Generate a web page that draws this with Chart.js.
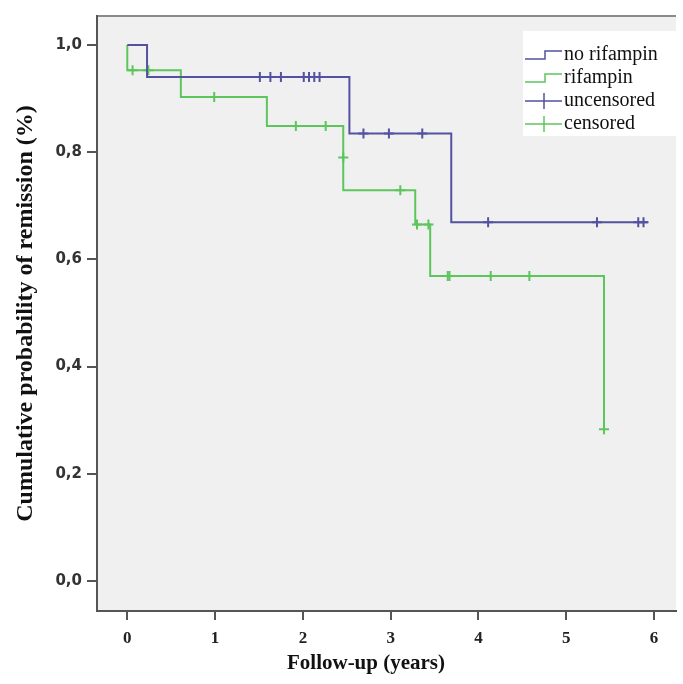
<!DOCTYPE html>
<html>
<head>
<meta charset="utf-8">
<script src="https://cdn.jsdelivr.net/npm/chart.js@4"></script>
<style>
html,body{margin:0;padding:0;background:#fff;}
#wrap{width:683px;height:684px;}
</style>
</head>
<body>
<div id="wrap"><canvas id="c" width="683" height="684"></canvas></div>
<script>
// ---- data ----
const xTickValues = [0, 1, 2, 3, 4, 5, 6];
const yTickValues = [0, 0.2, 0.4, 0.6, 0.8, 1.0];

// Kaplan-Meier steps: "no rifampin"
const noRifTimes = [0, 0.225, 2.53, 3.69, 5.93];
const noRifSurv  = [1.0, 0.940, 0.835, 0.669, 0.669];
// censor marks "no rifampin"
const noRifCensT = [1.51, 1.63, 1.75, 2.01, 2.07, 2.13, 2.19, 2.69, 2.98, 3.36, 4.11, 5.35, 5.82, 5.88];
const noRifCensS = [0.940, 0.940, 0.940, 0.940, 0.940, 0.940, 0.940, 0.835, 0.835, 0.835, 0.669, 0.669, 0.669, 0.669];

// Kaplan-Meier steps: "rifampin"
const rifTimes = [0, 0, 0.61, 1.59, 2.46, 3.28, 3.45, 5.43];
const rifSurv  = [1.0, 0.953, 0.903, 0.849, 0.729, 0.665, 0.569, 0.283];
// censor marks "rifampin"
const rifCensT = [0.06, 0.24, 0.99, 1.92, 2.26, 2.46, 3.11, 3.30, 3.43, 3.65, 3.67, 4.14, 4.58, 5.43];
const rifCensS = [0.953, 0.953, 0.903, 0.849, 0.849, 0.79, 0.729, 0.665, 0.665, 0.569, 0.569, 0.569, 0.569, 0.283];

const legendLabels = ['no rifampin', 'rifampin', 'uncensored', 'censored'];
const xTitle = 'Follow-up (years)';
const yTitle = 'Cumulative probability of remission (%)';

// ---- styling ----
const BLUE = '#5252a0';
const GREEN = '#5cc65c';
const AXIS = '#555555';

const pts = (xs, ys) => xs.map((x, i) => ({x: x, y: ys[i]}));

const bgPlugin = {
  id: 'bg',
  beforeDraw(chart) {
    const {ctx, chartArea: a} = chart;
    ctx.save();
    ctx.fillStyle = '#f0f0f0';
    ctx.fillRect(a.left, a.top, a.right - a.left, a.bottom - a.top);
    ctx.strokeStyle = '#8a8a8a';
    ctx.lineWidth = 2;
    ctx.beginPath();
    ctx.moveTo(a.left, a.top);
    ctx.lineTo(a.right, a.top);
    ctx.stroke();
    ctx.restore();
  }
};

const legendPlugin = {
  id: 'kmLegend',
  afterDraw(chart) {
    const {ctx} = chart;
    const x0 = 523, y0 = 31, w = 170, h = 105;
    ctx.save();
    ctx.fillStyle = '#ffffff';
    ctx.fillRect(x0, y0, w, h);
    const rows = [55, 78, 101, 124];
    const colors = [BLUE, GREEN, BLUE, GREEN];
    ctx.lineWidth = 1.5;
    rows.forEach((cy, i) => {
      ctx.strokeStyle = colors[i];
      ctx.beginPath();
      if (i < 2) {
        ctx.moveTo(525, cy + 4);
        ctx.lineTo(545, cy + 4);
        ctx.lineTo(545, cy - 4);
        ctx.lineTo(562, cy - 4);
      } else {
        ctx.moveTo(525, cy);
        ctx.lineTo(562, cy);
        ctx.moveTo(544, cy - 8);
        ctx.lineTo(544, cy + 8);
      }
      ctx.stroke();
      ctx.fillStyle = '#111';
      ctx.font = '20px "Liberation Serif"';
      ctx.textBaseline = 'middle';
      ctx.fillText(legendLabels[i], 564, cy);
    });
    // x-axis title (centred like the reference, left of the plot centre)
    ctx.font = 'bold 21px "Liberation Serif"';
    ctx.textAlign = 'center';
    ctx.textBaseline = 'middle';
    ctx.fillStyle = '#111';
    ctx.fillText(xTitle, 366, 664);
    ctx.restore();
  }
};

new Chart(document.getElementById('c'), {
  type: 'scatter',
  data: {
    datasets: [
      {
        label: legendLabels[0],
        data: pts(noRifTimes, noRifSurv),
        showLine: true, stepped: 'before',
        borderColor: BLUE, borderWidth: 2, pointRadius: 0, fill: false
      },
      {
        label: legendLabels[1],
        data: pts(rifTimes, rifSurv),
        showLine: true, stepped: 'before',
        borderColor: GREEN, borderWidth: 2, pointRadius: 0, fill: false
      },
      {
        label: legendLabels[2],
        data: pts(noRifCensT, noRifCensS),
        showLine: false,
        pointStyle: 'cross', pointRadius: 5, pointBorderWidth: 2,
        borderColor: BLUE, backgroundColor: BLUE
      },
      {
        label: legendLabels[3],
        data: pts(rifCensT, rifCensS),
        showLine: false,
        pointStyle: 'cross', pointRadius: 5, pointBorderWidth: 2,
        borderColor: GREEN, backgroundColor: GREEN
      }
    ]
  },
  options: {
    responsive: false,
    animation: false,
    layout: {padding: {top: 16, right: 0, left: 0, bottom: 0}},
    plugins: {legend: {display: false}, tooltip: {enabled: false}},
    scales: {
      x: {
        type: 'linear',
        min: -0.345, max: 6.25,
        afterBuildTicks: s => { s.ticks = xTickValues.map(v => ({value: v})); },
        afterFit: s => { s.height = 73; },
        grid: {display: true, drawOnChartArea: false, drawTicks: true, tickLength: 9, color: AXIS, lineWidth: 2},
        border: {display: true, color: AXIS, width: 2},
        ticks: {
          color: '#222', padding: 8,
          font: {family: '"Liberation Serif"', size: 17, weight: 'bold'},
          callback: v => String(v)
        },
        title: {display: false, text: xTitle}
      },
      y: {
        type: 'linear',
        min: -0.056, max: 1.054,
        afterBuildTicks: s => { s.ticks = yTickValues.map(v => ({value: v})); },
        afterFit: s => { s.width = 97; },
        grid: {display: true, drawOnChartArea: false, drawTicks: true, tickLength: 10, color: AXIS, lineWidth: 2},
        border: {display: true, color: AXIS, width: 2},
        ticks: {
          color: '#333', padding: 5,
          font: {family: '"DejaVu Sans"', size: 15, weight: 'bold'},
          callback: v => v.toFixed(1).replace('.', ',')
        },
        title: {
          display: true, text: yTitle, color: '#111',
          font: {family: '"Liberation Serif"', size: 24, weight: 'bold'},
          padding: {top: 11, bottom: 4}
        }
      }
    }
  },
  plugins: [bgPlugin, legendPlugin]
});
</script>
</body>
</html>
